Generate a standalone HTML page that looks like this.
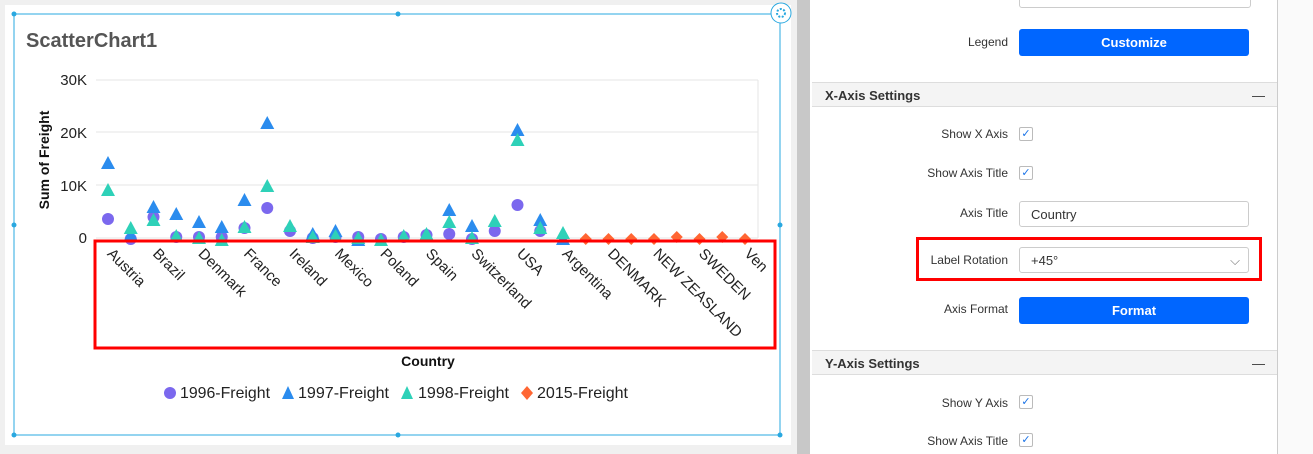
<!DOCTYPE html>
<html><head><style>
body{margin:0;width:1313px;height:454px;overflow:hidden;background:#fff;font-family:"Liberation Sans",sans-serif;position:relative}
.abs{position:absolute}
.lbl{position:absolute;right:305px;font-size:12px;color:#333;text-align:right}
.cb{position:absolute;left:1019px;width:12px;height:12px;border:1px solid #bbb;border-radius:2px;color:#1a73e8;font-size:11px;line-height:12px;text-align:center}
.btn{position:absolute;left:1019px;width:230px;height:27px;background:#0066ff;border-radius:3px;color:#fff;font-weight:bold;font-size:13px;text-align:center;line-height:27px}
.inp{position:absolute;left:1019px;height:26px;border:1px solid #ccc;border-radius:3px;font-size:13px;color:#333;line-height:26px;padding-left:11px;box-sizing:border-box;width:230px}
.hdr{position:absolute;left:812px;width:465px;height:25px;background:#f4f4f4;border-top:1px solid #ddd;border-bottom:1px solid #ddd;font-weight:bold;font-size:13px;color:#333;line-height:25px;padding-left:13px;box-sizing:border-box}
</style></head><body>
<div class="abs" style="left:0;top:0;width:797px;height:454px;background:#f0f0f0"></div>
<div class="abs" style="left:5px;top:5px;width:786px;height:440px;background:#fff"></div>
<div class="abs" style="left:797px;top:0;width:13px;height:454px;background:#c8c8c8"></div>
<div class="abs" style="left:1277px;top:0;width:36px;height:454px;background:#fafafa;border-left:1px solid #ccc"></div>
<div class="abs" style="left:1019px;top:-4px;width:230px;height:10px;border:1px solid #ccc;border-radius:3px"></div>
<div class="lbl" style="top:35px">Legend</div>
<div class="btn" style="top:29px">Customize</div>
<div class="hdr" style="top:82px">X-Axis Settings<span style="position:absolute;right:12px;font-weight:normal">—</span></div>
<div class="lbl" style="top:127px">Show X Axis</div><div class="cb" style="top:127px">✓</div>
<div class="lbl" style="top:166px">Show Axis Title</div><div class="cb" style="top:166px">✓</div>
<div class="lbl" style="top:206px">Axis Title</div><div class="inp" style="top:201px">Country</div>
<div class="lbl" style="top:253px">Label Rotation</div><div class="inp" style="top:247px">+45°<span style="position:absolute;right:8px;color:#777">⌵</span></div>
<div class="abs" style="left:916px;top:237px;width:346px;height:44px;border:3px solid #f00;box-sizing:border-box"></div>
<div class="lbl" style="top:302px">Axis Format</div>
<div class="btn" style="top:297px">Format</div>
<div class="hdr" style="top:350px">Y-Axis Settings<span style="position:absolute;right:12px;font-weight:normal">—</span></div>
<div class="lbl" style="top:396px">Show Y Axis</div><div class="cb" style="top:395px">✓</div>
<div class="lbl" style="top:434px">Show Axis Title</div><div class="cb" style="top:433px">✓</div>

<svg class="abs" style="left:0;top:0" width="797" height="454" font-family="Liberation Sans, sans-serif">
<rect x="14" y="14" width="766" height="421" fill="none" stroke="#29a8e0" stroke-width="1"/>
<g fill="#29a8e0"><circle cx="14" cy="14" r="2.5"/><circle cx="398" cy="14" r="2.5"/><circle cx="14" cy="225" r="2.5"/><circle cx="780" cy="225" r="2.5"/><circle cx="14" cy="435" r="2.5"/><circle cx="398" cy="435" r="2.5"/><circle cx="780" cy="435" r="2.5"/></g>
<circle cx="781" cy="13" r="10" fill="#fff" stroke="#29a8e0"/><circle cx="781" cy="13" r="4" fill="none" stroke="#29a8e0" stroke-width="2" stroke-dasharray="2 1.5"/>
<text x="26" y="47" font-size="20" font-weight="bold" fill="#555">ScatterChart1</text>
<g stroke="#e6e6e6"><line x1="96" y1="80" x2="758" y2="80"/><line x1="96" y1="132" x2="758" y2="132"/><line x1="96" y1="185" x2="758" y2="185"/><line x1="96" y1="238" x2="758" y2="238"/><line x1="758" y1="80" x2="758" y2="238"/></g>
<g font-size="15" fill="#222" text-anchor="end"><text x="87" y="85">30K</text><text x="87" y="138">20K</text><text x="87" y="191">10K</text><text x="87" y="243">0</text></g>
<text transform="translate(49,160) rotate(-90)" font-size="14" font-weight="bold" text-anchor="middle" fill="#111">Sum of Freight</text>
<g id="pts"></g>
<g font-size="15" fill="#222" id="xl"></g>
<rect x="95" y="241" width="680" height="107" fill="none" stroke="#f00" stroke-width="3"/>
<text x="428" y="366" font-size="14" font-weight="bold" text-anchor="middle" fill="#111">Country</text>
<g font-size="16" fill="#222">
<circle cx="170" cy="393" r="6" fill="#7b68ee"/><text x="180" y="398" textLength="90" lengthAdjust="spacingAndGlyphs">1996-Freight</text>
<polygon points="288,386 294,399 282,399" fill="#2b8cee"/><text x="298" y="398" textLength="91" lengthAdjust="spacingAndGlyphs">1997-Freight</text>
<polygon points="407,386 413,399 401,399" fill="#2ed1b8"/><text x="418" y="398" textLength="91" lengthAdjust="spacingAndGlyphs">1998-Freight</text>
<polygon points="527,386 533,393 527,400 521,393" fill="#ff6633"/><text x="537" y="398" textLength="91" lengthAdjust="spacingAndGlyphs">2015-Freight</text>
</g>
</svg>
<script>
var X=i=>108+i*22.75;
var d96=[219,239,217,237,237,237,228,208,231,238,237,237,239,237,235,234,239,231,205,231];
var d97=[163,235,207,214,222,227,200,123,0,234,231,240,0,0,0,210,226,0,130,220,239];
var d98=[190,228,220,236,238,240,227,186,226,237,236,238,240,236,234,222,238,221,140,228,233];
var d15={21:239,22:239,23:239,24:239,25:237,26:239,27:237,28:239};
var s='';
d96.forEach((y,i)=>{s+=`<circle cx="${X(i)}" cy="${y}" r="6" fill="#7b68ee"/>`});
d97.forEach((y,i)=>{if(y){var x=X(i);s+=`<polygon points="${x},${y-7} ${x+7},${y+6} ${x-7},${y+6}" fill="#2b8cee"/>`}});
d98.forEach((y,i)=>{var x=X(i);s+=`<polygon points="${x},${y-7} ${x+7},${y+6} ${x-7},${y+6}" fill="#2ed1b8"/>`});
for(var k in d15){var x=X(+k),y=d15[k];s+=`<polygon points="${x},${y-6} ${x+6},${y} ${x},${y+6} ${x-6},${y}" fill="#ff6633"/>`}
document.getElementById('pts').innerHTML=s;
var L=["Austria","Brazil","Denmark","France","Ireland","Mexico","Poland","Spain","Switzerland","USA","Argentina","DENMARK","NEW ZEASLAND","SWEDEN","Ven"];
var t='';L.forEach((n,j)=>{var x=X(2*j)+2;t+=`<text transform="translate(${x},251) rotate(45)" x="0" y="5">${n}</text>`});
document.getElementById('xl').innerHTML=t;
</script>
</body></html>
